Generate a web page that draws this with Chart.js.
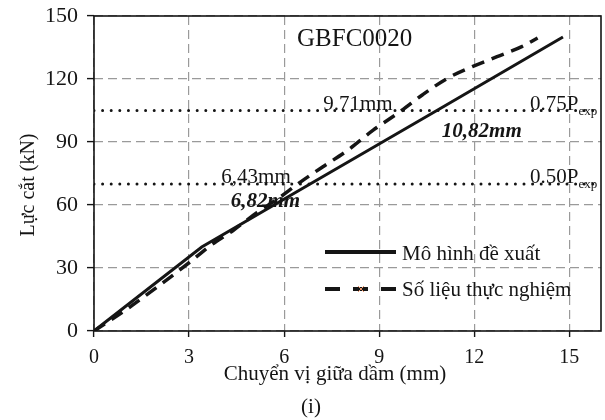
<!DOCTYPE html>
<html>
<head>
<meta charset="utf-8">
<script src="https://cdn.jsdelivr.net/npm/chart.js@4.4.1/dist/chart.umd.min.js"></script>
<style>
  html, body { margin: 0; padding: 0; background: #fff; }
  #wrap { width: 605px; height: 420px; position: relative; }
</style>
</head>
<body>
<div id="wrap"><canvas id="chartGBFC"></canvas></div>
<script>
// ── data ──
const modelX = [0, 3.4, 6.82, 10.82, 14.8];
const modelY = [0, 40, 70, 105, 140];

const expX = [0, 1, 2, 3, 3.7, 4.4, 5.15, 5.85, 6.43, 7.2, 8.0, 8.8, 9.71, 10.36, 11.15, 11.94, 12.72, 13.5, 14.0];
const expY = [0, 10, 21, 32.5, 41, 48, 56.5, 63.5, 70, 78, 86, 95.5, 105, 112.4, 120.3, 125.9, 130.6, 135.4, 139.5];

const refLevels = [105, 70];            // 0.75Pexp, 0.50Pexp
const refNames  = ['0.75P', '0.50P'];
const expAt     = [9.71, 6.43];         // experiment crossing
const modelAt   = [10.82, 6.82];        // model crossing

const xTicks = [0, 3, 6, 9, 12, 15];
const yTicks = [0, 30, 60, 90, 120, 150];

const seriesNames = ['Mô hình đề xuất', 'Số liệu thực nghiệm'];
const chartTitle  = 'GBFC0020';
const xTitle = 'Chuyển vị giữa dầm (mm)';
const yTitle = 'Lực cắt (kN)';
const caption = '(i)';

const serif = "'Liberation Serif', 'Times New Roman', serif";
const ink = '#151515';

const pts = (xs, ys) => xs.map((x, i) => ({ x: x, y: ys[i] }));

const refSets = refLevels.map(v => ({
  data: [{ x: 0, y: v }, { x: 16, y: v }],
  borderColor: ink,
  borderWidth: 3,
  borderDash: [0, 8.6],
  borderCapStyle: 'round',
  pointRadius: 0,
  showLine: true,
  fill: false
}));

// ── overlay: frame, texts, legend ──
const overlay = {
  id: 'overlay',
  afterDatasetsDraw(chart) {
    const { ctx, chartArea: a, scales } = chart;
    const px = v => scales.x.getPixelForValue(v);
    const py = v => scales.y.getPixelForValue(v);
    ctx.save();

    // plot frame
    ctx.strokeStyle = ink;
    ctx.lineWidth = 1.6;
    ctx.setLineDash([]);
    ctx.strokeRect(a.left, a.top, a.right - a.left, a.bottom - a.top);

    ctx.fillStyle = ink;
    ctx.textBaseline = 'alphabetic';

    // title inside plot
    ctx.font = '25px ' + serif;
    ctx.textAlign = 'left';
    ctx.fillText(chartTitle, 297, 46);

    // crossing labels
    ctx.font = '21px ' + serif;
    ctx.textAlign = 'right';
    ctx.fillText(expAt[0].toFixed(2) + 'mm', px(expAt[0]) - 9, py(refLevels[0]) - 1);
    ctx.fillText(expAt[1].toFixed(2).replace('.', ',') + 'mm', px(expAt[1]) - 7, py(refLevels[1]) - 1);

    ctx.font = 'italic bold 21px ' + serif;
    ctx.textAlign = 'left';
    ctx.fillText(modelAt[0].toFixed(2).replace('.', ',') + 'mm', px(modelAt[0]) + 5, py(refLevels[0]) + 26);
    ctx.textAlign = 'right';
    ctx.fillText(modelAt[1].toFixed(2).replace('.', ',') + 'mm', px(modelAt[1]) - 10, py(refLevels[1]) + 23);

    // level names with subscript, clipped at the frame
    ctx.save();
    ctx.beginPath();
    ctx.rect(a.left, a.top, a.right - a.left, a.bottom - a.top);
    ctx.clip();
    refLevels.forEach((v, i) => {
      ctx.textAlign = 'left';
      ctx.font = '21px ' + serif;
      const x0 = 530, y0 = py(v) - 1;
      ctx.fillText(refNames[i], x0, y0);
      const w = ctx.measureText(refNames[i]).width;
      ctx.font = '13px ' + serif;
      ctx.fillText('exp', x0 + w, y0 + 5);
    });
    ctx.restore();

    // legend
    const rows = [252, 289];
    const legendDash = [[], [15, 13]];
    [0, 1].forEach(i => {
      ctx.strokeStyle = ink;
      ctx.lineWidth = 4;
      ctx.lineCap = 'butt';
      ctx.setLineDash(legendDash[i]);
      ctx.beginPath();
      ctx.moveTo(325, rows[i]);
      ctx.lineTo(396, rows[i]);
      ctx.stroke();
    });
    ctx.setLineDash([]);
    // tiny orange marker on the dashed legend sample
    ctx.strokeStyle = '#e8956a';
    ctx.lineWidth = 1;
    ctx.beginPath();
    ctx.moveTo(358, rows[1] - 3); ctx.lineTo(364, rows[1] + 3);
    ctx.moveTo(364, rows[1] - 3); ctx.lineTo(358, rows[1] + 3);
    ctx.stroke();

    ctx.fillStyle = ink;
    ctx.font = '21px ' + serif;
    ctx.textAlign = 'left';
    ctx.fillText(seriesNames[0], 402, 260);
    ctx.fillText(seriesNames[1], 402, 296);

    // axis titles and caption
    ctx.textAlign = 'center';
    ctx.font = '21px ' + serif;
    ctx.fillText(xTitle, 335, 380);
    ctx.fillText(caption, 311, 413);

    ctx.font = '20px ' + serif;
    ctx.translate(34, 185);
    ctx.rotate(-Math.PI / 2);
    ctx.fillText(yTitle, 0, 0);

    ctx.restore();
  }
};

new Chart(document.getElementById('chartGBFC'), {
  type: 'scatter',
  data: {
    datasets: [
      {
        label: seriesNames[0],
        data: pts(modelX, modelY),
        borderColor: ink,
        borderWidth: 3,
        showLine: true,
        pointRadius: 0,
        tension: 0,
        fill: false
      },
      {
        label: seriesNames[1],
        data: pts(expX, expY),
        borderColor: ink,
        borderWidth: 3.5,
        borderDash: [13, 8],
        showLine: true,
        pointRadius: 0,
        cubicInterpolationMode: 'monotone',
        fill: false
      }
    ].concat(refSets)
  },
  options: {
    responsive: true,
    maintainAspectRatio: false,
    animation: false,
    events: [],
    layout: { padding: { top: 16, right: 4, left: 0, bottom: 0 } },
    plugins: {
      legend: { display: false },
      tooltip: { enabled: false }
    },
    scales: {
      x: {
        type: 'linear',
        min: 0,
        max: 16,
        afterBuildTicks: s => { s.ticks = xTicks.map(v => ({ value: v })); },
        afterFit: s => { s.height = 89; s.paddingLeft = 0; s.paddingRight = 0; },
        grid: {
          color: '#9a9a9a',
          lineWidth: 1.2,
          tickLength: 6,
          tickColor: ink,
          tickWidth: 1.4,
          tickBorderDash: []
        },
        border: { display: false, dash: [9, 5] },
        ticks: {
          color: ink,
          padding: 9,
          maxRotation: 0,
          font: { family: serif, size: 20 }
        }
      },
      y: {
        type: 'linear',
        min: 0,
        max: 150,
        afterBuildTicks: s => { s.ticks = yTicks.map(v => ({ value: v })); },
        afterFit: s => { s.width = 94; s.paddingTop = 0; s.paddingBottom = 0; },
        grid: {
          color: '#9a9a9a',
          lineWidth: 1.2,
          tickLength: 7,
          tickColor: ink,
          tickWidth: 1.4,
          tickBorderDash: []
        },
        border: { display: false, dash: [9, 5] },
        ticks: {
          color: ink,
          padding: 9,
          font: { family: serif, size: 22 }
        }
      }
    }
  },
  plugins: [overlay]
});
</script>
</body>
</html>
